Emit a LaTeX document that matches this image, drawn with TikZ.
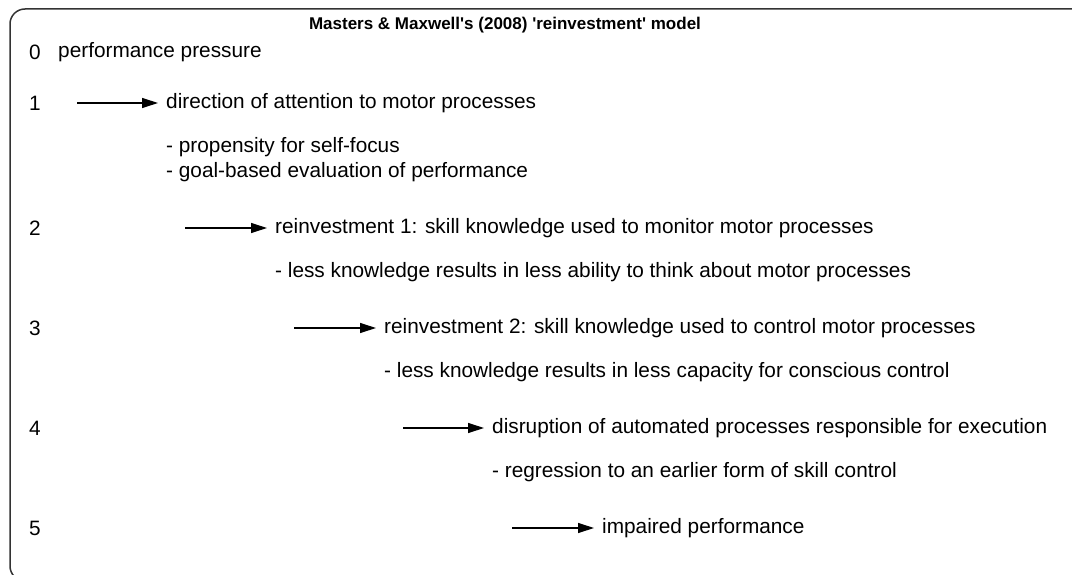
\documentclass[tikz,border=0pt]{standalone}
\usepackage{fontspec}
\setmainfont{Liberation Sans}
\usetikzlibrary{arrows.meta}
\tikzset{
  txt/.style={anchor=west,inner sep=0pt,font=\fontsize{20.8}{25}\selectfont},
  arr/.style={line width=1.2pt,-{Triangle[length=16pt,width=10pt]},shorten >=8pt},
}
\begin{document}
\begin{tikzpicture}[x=1pt,y=-1pt]
\useasboundingbox (0,0) rectangle (1072,575);
\clip (0,0) rectangle (1072,575);
\begin{scope}
\draw[line width=1.5pt,black!80,rounded corners=15pt] (1090,9) -- (10,9) -- (10,581) -- (1090,581);
\node[inner sep=0pt,font=\fontsize{17}{20}\selectfont\bfseries] (title) at (505,25) {Masters \& Maxwell\textquotesingle s (2008) \textquotesingle reinvestment\textquotesingle{} model};
% step numbers
\node[txt] (n0) at (29,52) {0};
\node[txt] (n1) at (29,103) {1};
\node[txt] (n2) at (29,228) {2};
\node[txt] (n3) at (29,328) {3};
\node[txt] (n4) at (29,428) {4};
\node[txt] (n5) at (29,528) {5};
% steps
\node[txt] (t0) at (58,52) {performance pressure};
\node[txt] (t1) at (166,103) {direction of attention to motor processes};
\node[txt] (t1a) at (166,147) {- propensity for self-focus};
\node[txt] (t1b) at (166,172) {- goal-based evaluation of performance};
\node[txt] (t2) at (275,228) {reinvestment 1: skill knowledge used to monitor motor processes};
\node[txt] (t2a) at (275,272) {- less knowledge results in less ability to think about motor processes};
\node[txt] (t3) at (384,328) {reinvestment 2: skill knowledge used to control motor processes};
\node[txt] (t3a) at (384,372) {- less knowledge results in less capacity for conscious control};
\node[txt] (t4) at (492,428) {disruption of automated processes responsible for execution};
\node[txt] (t4a) at (492,472) {- regression to an earlier form of skill control};
\node[txt] (t5) at (602,528) {impaired performance};
% arrows
\coordinate (s1) at (77,103);
\coordinate (s2) at (185,228);
\coordinate (s3) at (294,328);
\coordinate (s4) at (403,428);
\coordinate (s5) at (512,528);
\draw[arr] (s1) -- (t1.west);
\draw[arr] (s2) -- (t2.west);
\draw[arr] (s3) -- (t3.west);
\draw[arr] (s4) -- (t4.west);
\draw[arr] (s5) -- (t5.west);
\end{scope}
\end{tikzpicture}
\end{document}
